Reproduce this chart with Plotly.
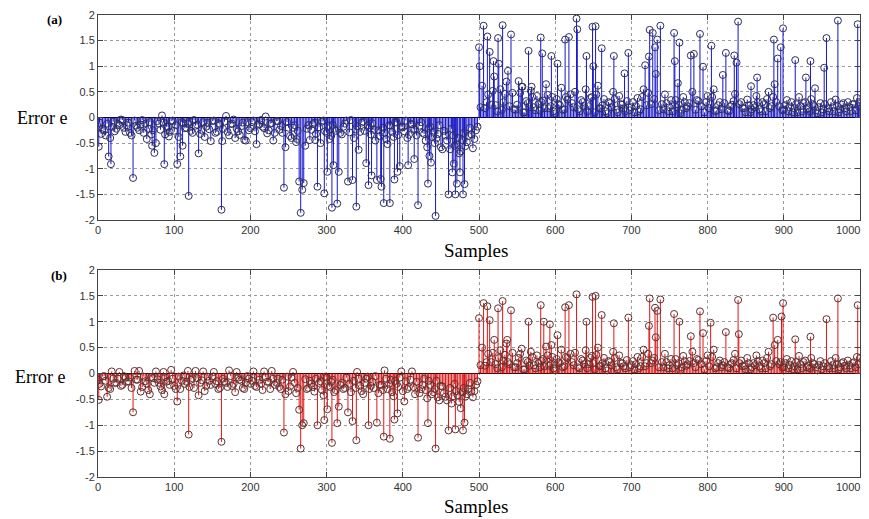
import plotly.graph_objects as go

# ---------------- data ----------------
# panel (a): background samples, every 4 samples starting at 0 / 500 ...
base_a_neg = [
    -.18, -.32, -.25, -.12, -.40, -.08, -.22, -.15, -.05, -.28,
    -.10, -.35, -.06, -.20, -.14, -.30, -.42, -.09, -.25, -.50,
    -.12, .04, -.33, -.18, -.07, -.26, -.15, -.45, -.11, -.20,
    -.08, -.30, -.16, -.05, -.24, -.38, -.10, -.19, -.06, -.28,
    -.14, -.22, .03, -.35, -.12, -.08, -.27, -.17, -.44, -.09,
    -.21, -.06, -.32, -.13, -.18, .02, -.25, -.11, -.30, -.07,
    -.16, -.23, -.09, -.36, -.20, -.48, -.12, -.28, -.55, -.15,
    -.24, -.10, -.38, -.18, -.06, -.30, -.42, -.14, -.26, -.09,
    -.33, -.12, -.22, -.05, -.40, -.17, -.28, -.08, -.35, -.20,
    -.11, -.45, -.25, -.07, -.30, -.52, -.16, -.38, -.10, -.27,
    -.19, -.06, -.34, -.13, -.24, -.46, -.09, -.32, -.58, -.18,
    -.28, -.41, -.15, -.62, -.35, -.70, -.22, -.55, -.40, -.66,
    -.30, -.48, -.20, -.60, -.25,
]
base_a_pos = [
    .35, .62, .18, .45, .25, .80, .12, .55, .30, .70,
    .22, .48, .15, .38, .60, .10, .28, .52, .20, .42,
    .14, .33, .65, .18, .40, .08, .26, .58, .16, .35,
    .45, .20, .72, .12, .30, .55, .22, .40, .10, .62,
    .18, .36, .08, .28, .50, .15, .42, .25, .12, .32,
    .20, .10, .38, .16, .55, .24, .68, .30, .85, .14,
    .26, .45, .12, .34, .60, .20, .08, .40, .18, .28,
    .50, .15, .32, .22, .10, .42, .26, .55, .14, .30,
    .20, .38, .12, .25, .46, .08, .30, .18, .35, .10,
    .24, .42, .16, .30, .12, .50, .22, .65, .80, .28,
    .15, .34, .20, .10, .26, .40, .12, .30, .18, .36,
    .22, .08, .28, .16, .45, .12, .20, .35, .10, .25,
    .18, .30, .12, .26, .38,
]
# ... and the samples in between (starting at 2 / 502)
base_a_neg_mid = [
    -.10, -.22, -.35, -.06, -.18, -.27, -.12, -.04, -.20, -.15,
    -.30, -.08, -.16, -.25, -.05, -.12, -.22, -.33, -.14, -.07,
    -.24, -.10, -.18, -.28, -.06, -.15, -.38, -.09, -.21, -.12,
    -.26, -.05, -.14, -.32, -.09, -.18, -.23, -.07, -.30, -.11,
    -.19, -.08, -.28, -.13, -.04, -.22, -.34, -.10, -.16, -.25,
    -.09, -.27, -.14, -.05, -.21, -.31, -.12, -.18, -.07, -.24,
    -.30, -.11, -.20, -.40, -.15, -.26, -.35, -.09, -.22, -.44,
    -.13, -.32, -.19, -.08, -.27, -.16, -.36, -.22, -.11, -.30,
    -.18, -.06, -.29, -.14, -.23, -.38, -.10, -.26, -.16, -.33,
    -.24, -.12, -.36, -.20, -.42, -.15, -.28, -.09, -.34, -.18,
    -.27, -.40, -.13, -.22, -.35, -.16, -.30, -.45, -.21, -.38,
    -.50, -.32, -.58, -.26, -.45, -.62, -.35, -.52, -.70, -.44,
    -.56, -.36, -.65, -.42, -.18,
]
base_a_pos_mid = [
    .20, .42, .30, .12, .52, .24, .38, .15, .46, .28,
    .35, .16, .25, .48, .10, .32, .20, .40, .14, .26,
    .30, .18, .44, .22, .12, .36, .24, .15, .40, .20,
    .28, .50, .16, .34, .22, .12, .38, .26, .45, .18,
    .24, .12, .30, .20, .36, .10, .26, .18, .32, .14,
    .30, .22, .12, .40, .18, .48, .26, .36, .20, .55,
    .16, .28, .20, .12, .34, .25, .15, .30, .22, .10,
    .26, .34, .14, .20, .30, .18, .40, .12, .24, .16,
    .28, .14, .22, .32, .12, .26, .18, .10, .24, .16,
    .20, .30, .12, .26, .36, .18, .40, .30, .22, .14,
    .24, .12, .30, .18, .10, .22, .28, .16, .12, .26,
    .14, .20, .10, .26, .18, .30, .12, .22, .16, .28,
    .12, .20, .26, .14, .22,
]
spike_a_x = [
    1, 14, 17, 46, 71, 74, 87, 93, 104, 108, 111, 119, 132, 148, 162, 163,
    180, 194, 208, 230, 244, 246, 261, 264, 266, 268, 270, 285, 288, 292,
    297, 301, 307, 309, 314, 316, 328, 334, 339, 342, 352, 355, 359, 366,
    371, 372, 375, 383, 389, 393, 396, 407, 415, 420, 433, 435, 437, 443,
    460, 465, 467, 469, 471, 475, 479, 481, 490,
    500, 501, 506, 511, 514, 519, 525, 526, 531, 538, 542, 552, 557, 565,
    569, 581, 583, 595, 603, 613, 618, 628, 629, 641, 649, 650, 653, 661,
    677, 691, 696, 718, 723, 724, 728, 731, 734, 738, 756, 757, 761, 763,
    778, 782, 790, 794, 805, 820, 824, 835, 838, 840, 857, 865, 887, 892,
    896, 899, 915, 929, 935, 941, 953, 956, 968, 971, 997, 999,
]
spike_a_y = [
    -.57, -.76, -.91, -1.18, -.55, -.69, -.91, -.37, -.91, -.76, -.55, -1.53,
    -.70, -.46, -1.80, -.46, -.40, -.45, -.52, -.45, -1.37, -.58, -.42, -1.25,
    -1.86, -1.41, -1.28, -.44, -1.35, -.50, -1.48, -1.06, -1.76, -.93, -1.68,
    -1.06, -1.25, -1.22, -1.74, -.63, -.89, -1.32, -1.13, -1.22, -1.20, -1.35,
    -1.67, -1.67, -1.21, -1.06, -.95, -.93, -.81, -1.71, -1.29, -.75, -.88,
    -1.92, -1.50, -1.07, -.90, -1.50, -1.29, -1.07, -1.50, -1.30, -.33,
    1.37, 1.00, 1.79, 1.58, 1.28, 1.10, 1.55, 1.05, 1.80, .91, 1.62, .71, .60,
    1.30, .60, 1.56, 1.25, 1.20, 1.05, 1.52, 1.57, 1.93, 1.72, 1.20, 1.77,
    1.00, 1.78, 1.35, 1.20, .86, 1.26, 1.02, 1.19, 1.71, 1.65, 1.37, 1.52,
    1.79, 1.65, 1.10, .67, 1.46, 1.21, 1.24, 1.63, .99, 1.40, .83, 1.26, 1.21,
    1.07, 1.87, .61, .78, 1.52, 1.15, 1.37, 1.74, 1.12, .78, 1.10, .57, .97,
    1.55, .35, 1.89, 1.82, .30,
]

# panel (b)
base_b_neg = [
    -.12, -.25, -.05, .06, -.30, -.10, -.18, .03, -.22, -.08,
    -.15, -.28, .05, -.12, -.35, -.06, -.20, -.40, -.09, .04,
    -.18, -.32, -.07, -.14, .07, -.24, -.11, -.30, -.04, -.16,
    -.26, -.09, .05, -.20, -.13, -.34, -.06, -.22, .03, -.15,
    -.28, -.10, -.18, .06, -.24, -.36, -.08, -.14, -.30, -.05,
    -.20, .04, -.26, -.12, -.32, -.07, -.16, .05, -.22, -.10,
    -.30, -.14, -.06, -.25, .03, -.38, -.18, -.45, -.11, -.28,
    -.20, -.35, .04, -.15, -.42, -.08, -.26, -.12, -.32, .05,
    -.18, -.28, -.07, -.36, -.14, .03, -.24, -.40, -.10, -.30,
    -.16, -.05, -.38, -.22, .06, -.30, -.12, -.44, -.20, -.08,
    -.34, -.15, -.26, .04, -.40, -.18, -.30, -.10, -.48, -.22,
    -.36, -.14, -.52, -.25, -.45, -.30, -.58, -.20, -.42, -.50,
    -.28, -.40, -.18, -.46, -.22,
]
base_b_pos = [
    .28, .50, .15, .38, .22, .65, .10, .45, .25, .58,
    .18, .40, .12, .30, .48, .08, .22, .42, .16, .35,
    .12, .28, .52, .15, .32, .06, .22, .46, .14, .30,
    .38, .16, .60, .10, .25, .45, .18, .34, .08, .50,
    .15, .30, .06, .22, .42, .12, .35, .20, .10, .26,
    .16, .08, .32, .14, .46, .20, .55, .25, .70, .12,
    .22, .38, .10, .28, .50, .16, .06, .34, .15, .24,
    .42, .12, .26, .18, .08, .35, .22, .46, .12, .25,
    .16, .32, .10, .20, .38, .06, .25, .15, .30, .08,
    .20, .35, .14, .25, .10, .42, .18, .55, .65, .22,
    .12, .28, .16, .08, .22, .34, .10, .25, .15, .30,
    .18, .06, .24, .14, .38, .10, .16, .30, .08, .20,
    .15, .25, .10, .22, .32,
]
base_b_neg_mid = [
    -.20, -.06, -.14, -.28, .04, -.18, -.10, -.24, -.05, -.16,
    -.08, -.22, -.12, .05, -.26, -.15, -.32, -.07, -.18, -.11,
    -.25, .03, -.16, -.22, -.10, -.30, -.06, -.14, -.20, .05,
    -.12, -.28, -.09, -.18, .04, -.24, -.14, -.06, -.20, -.30,
    -.08, -.16, -.26, -.05, -.20, .03, -.12, -.28, -.18, -.10,
    -.14, -.24, -.06, -.20, .04, -.16, -.30, -.10, -.18, -.26,
    -.12, -.22, -.34, -.08, -.18, -.28, .03, -.20, -.30, -.14,
    -.26, -.10, -.18, -.32, -.06, -.24, -.16, -.36, -.12, -.22,
    -.30, -.08, -.20, -.14, -.28, -.10, -.34, -.18, -.06, -.24,
    -.28, -.12, -.22, -.32, -.10, -.20, -.36, -.14, -.26, .04,
    -.20, -.30, -.12, -.26, -.16, -.38, -.22, -.32, -.14, -.40,
    -.30, -.46, -.24, -.38, -.52, -.28, -.44, -.34, -.55, -.36,
    -.45, -.30, -.50, -.34, -.15,
]
base_b_pos_mid = [
    .16, .34, .22, .10, .40, .18, .30, .12, .36, .22,
    .28, .12, .20, .38, .08, .25, .15, .32, .10, .20,
    .24, .14, .35, .18, .10, .28, .20, .12, .32, .16,
    .22, .40, .12, .28, .18, .10, .30, .20, .36, .14,
    .20, .10, .24, .16, .30, .08, .20, .14, .26, .12,
    .24, .18, .10, .32, .14, .38, .20, .30, .16, .44,
    .12, .22, .16, .10, .28, .20, .12, .24, .18, .08,
    .20, .28, .12, .16, .24, .14, .32, .10, .20, .12,
    .22, .12, .18, .26, .10, .20, .14, .08, .20, .12,
    .16, .24, .10, .20, .30, .14, .32, .24, .18, .12,
    .20, .10, .24, .14, .08, .18, .22, .12, .10, .20,
    .12, .16, .08, .20, .14, .24, .10, .18, .12, .22,
    .10, .16, .20, .12, .18,
]
spike_b_x = [
    1, 12, 46, 87, 104, 119, 132, 162, 244, 246, 264, 266, 268, 270, 288,
    297, 301, 307, 314, 316, 328, 334, 339, 355, 366, 375, 383, 389, 393,
    402, 420, 433, 443, 460, 469, 476, 479, 481, 490,
    500, 506, 511, 514, 525, 531, 537, 542, 565, 581, 585, 593, 595, 603,
    613, 618, 628, 641, 649, 653, 661, 677, 696, 723, 724, 731, 734, 738,
    756, 763, 778, 790, 794, 804, 824, 840, 841, 886, 897, 899, 915, 935,
    956, 971, 997, 1000,
]
spike_b_y = [
    -.51, -.45, -.75, -.40, -.54, -1.18, -.42, -1.32, -1.14, -.40, -.70,
    -1.45, -1.00, -.96, -1.00, -.90, -.69, -1.34, -.96, -.64, -.75, -.92,
    -1.29, -1.00, -.95, -1.22, -1.26, -.89, -.77, -.54, -1.24, -.96, -1.45,
    -1.10, -1.08, -.67, -1.10, -.95, -.35,
    1.07, 1.36, 1.30, 1.03, 1.26, 1.40, .65, 1.22, 1.00, 1.32, 1.00, .95,
    .55, .74, 1.28, 1.32, 1.53, 1.00, 1.48, 1.50, 1.13, .97, 1.08, .92,
    1.45, 1.27, 1.21, 1.43, 1.15, 1.00, .72, 1.20, .78, .98, .80, 1.42, .76,
    1.08, 1.10, 1.36, .66, .71, 1.05, 1.45, 1.32, .30,
]

x_ticks = [0, 100, 200, 300, 400, 500, 600, 700, 800, 900, 1000]
x_labels = ["0", "100", "200", "300", "400", "500", "600", "700", "800", "900", "1000"]
y_ticks = [-2, -1.5, -1, -0.5, 0, 0.5, 1, 1.5, 2]
y_labels = ["-2", "-1.5", "-1", "-0.5", "0", "0.5", "1", "1.5", "2"]


def build(neg, pos, neg_mid, pos_mid, sx, sy):
    pts = {}
    for start, lst in ((0, neg), (500, pos), (2, neg_mid), (502, pos_mid)):
        for i, v in enumerate(lst):
            pts[start + 4 * i] = v
    for x, v in zip(sx, sy):
        pts[x] = v
    xs = sorted(pts)
    return xs, [pts[x] for x in xs]


def stems(xs, ys):
    sx, sy = [], []
    for x, y in zip(xs, ys):
        sx += [x, x, None]
        sy += [0, y, None]
    return sx, sy


fig = go.Figure()

panels = [
    (build(base_a_neg, base_a_pos, base_a_neg_mid, base_a_pos_mid, spike_a_x, spike_a_y),
     "#1616cc", "#2e2e62", "x", "y"),
    (build(base_b_neg, base_b_pos, base_b_neg_mid, base_b_pos_mid, spike_b_x, spike_b_y),
     "#e01616", "#623030", "x2", "y2"),
]
for (xs, ys), scol, mcol, xa, ya in panels:
    fig.add_trace(go.Scatter(x=[0, 1000], y=[0, 0], mode="lines",
                             line=dict(color="black", width=1),
                             xaxis=xa, yaxis=ya, hoverinfo="skip"))
    sx, sy = stems(xs, ys)
    fig.add_trace(go.Scatter(x=sx, y=sy, mode="lines",
                             line=dict(color=scol, width=1),
                             xaxis=xa, yaxis=ya, hoverinfo="skip"))
    fig.add_trace(go.Scatter(x=xs, y=ys, mode="markers",
                             marker=dict(symbol="circle-open", size=7,
                                         color=mcol, line=dict(width=1)),
                             xaxis=xa, yaxis=ya, hoverinfo="skip"))

# the page body adds an 8px margin; the figure is laid out in page pixels minus it
OFF = 8
W = 869.0 - OFF
H = 519.0 - OFF
PL, PR = 98 - OFF, 860 - OFF  # plot area left/right in figure px


def dom_y(top_px, bottom_px):
    return [1 - (bottom_px - OFF) / H, 1 - (top_px - OFF) / H]


tick_font = dict(family="Liberation Sans, Arial", size=11, color="#333")
axis_common = dict(
    showline=True, linecolor="#444", linewidth=1, mirror="ticks",
    ticks="inside", ticklen=5, tickcolor="#444",
    showgrid=True, gridcolor="#9a9a9a", griddash="dot", gridwidth=1,
    zeroline=False, automargin=False, tickfont=tick_font,
)
# the last x label ("1000") sits at the page edge; it is drawn right-aligned below
x_text = x_labels[:-1] + [""]
fig.update_layout(
    width=W, height=H,
    margin=dict(l=PL, r=W - PR, t=0, b=0),
    paper_bgcolor="white", plot_bgcolor="white",
    showlegend=False, hovermode=False,
    xaxis=dict(domain=[0, 1], range=[0, 1000], tickvals=x_ticks, ticktext=x_text,
               anchor="y", **axis_common),
    yaxis=dict(domain=dom_y(15, 220), range=[-2, 2], tickvals=y_ticks,
               ticktext=y_labels, anchor="x", **axis_common),
    xaxis2=dict(domain=[0, 1], range=[0, 1000], tickvals=x_ticks, ticktext=x_text,
                anchor="y2", **axis_common),
    yaxis2=dict(domain=dom_y(270, 477), range=[-2, 2], tickvals=y_ticks,
                ticktext=y_labels, anchor="x2", **axis_common),
)


def px_x(p):
    return (p - OFF - PL) / float(PR - PL)


def px_y(p):
    return 1 - (p - OFF) / H


serif = "Liberation Serif, Times New Roman, serif"
notes = [
    ("<b>(a)</b>", 54, 19, 13),
    ("Error e", 42, 118, 18),
    ("Samples", 476, 250, 19),
    ("<b>(b)</b>", 59, 275, 13),
    ("Error e", 40, 377, 18),
    ("Samples", 476, 506, 19),
]
for text, x, y, s in notes:
    fig.add_annotation(text=text, xref="paper", yref="paper",
                       x=px_x(x), y=px_y(y), xanchor="center", yanchor="middle",
                       showarrow=False, font=dict(family=serif, size=s, color="black"))

for y in (230, 487):
    fig.add_annotation(text=x_labels[-1], xref="paper", yref="paper",
                       x=1.0, y=px_y(y), xanchor="right", yanchor="middle", xshift=2,
                       showarrow=False, font=tick_font)

fig.write_html("out.html")
